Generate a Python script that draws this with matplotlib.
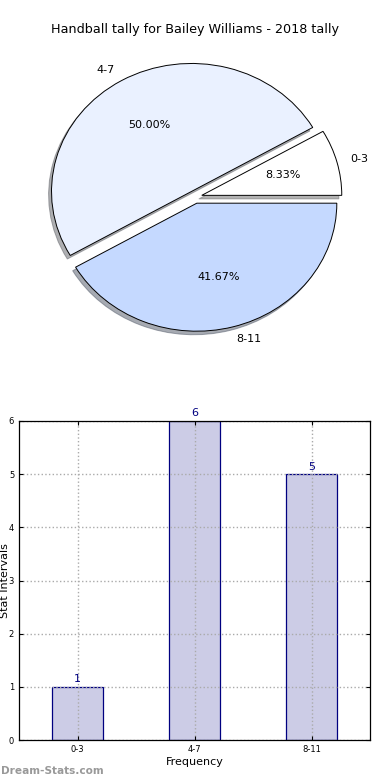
import matplotlib
matplotlib.use("Agg")
import matplotlib.pyplot as plt

categories = ["0-3", "4-7", "8-11"]
counts = [1, 6, 5]
pie_colors = ["#FFFFFF", "#EAF1FF", "#C5D9FF"]
explode = [0.05, 0.05, 0.05]
yticks = [0, 1, 2, 3, 4, 5, 6]

W, H = 390, 780
fig = plt.figure(figsize=(W / 100, H / 100), dpi=100)

def frac(l, t, w, h):
    return [l / W, 1 - (t + h) / H, w / W, h / H]

fig.text(195 / W, 1 - 30 / H, "Handball tally for Bailey Williams - 2018 tally",
         ha="center", va="center", fontsize=9.2)

ax1 = fig.add_axes(frac(20, 37, 350, 320))
wedges, texts, autotexts = ax1.pie(counts, labels=categories, colors=pie_colors,
                                   explode=explode, autopct="%1.2f%%",
                                   shadow={"ox": -0.015, "oy": -0.02, "shade": 0.6},
                                   startangle=0,
                                   wedgeprops=dict(edgecolor="black", linewidth=0.7),
                                   textprops=dict(fontsize=8))
ax1.set_aspect("auto")
ax1.set_xlim(-1.25, 1.25)
ax1.set_ylim(-1.25, 1.25)
ax1.axis("off")

ax2 = fig.add_axes(frac(19, 421, 351, 319))
x = list(range(len(categories)))
bars = ax2.bar(x, counts, width=0.44, color="#CCCCE6", edgecolor="navy", linewidth=0.9, zorder=1)
for xi, c in zip(x, counts):
    ax2.text(xi, c + 0.05, str(c), ha="center", va="bottom", color="navy", fontsize=8)
ax2.set_xlim(-0.5, 2.5)
ax2.set_ylim(0, 6)
ax2.set_xticks(x)
ax2.set_xticklabels(categories)
ax2.set_yticks(yticks)
ax2.tick_params(labelsize=6, direction="in", top=True, right=True, length=3)
ax2.set_axisbelow("line")
ax2.grid(True, linestyle=":", color="#AAAAAA", linewidth=1.0)
ax2.set_xlabel("Frequency", fontsize=8, labelpad=2)
ax2.set_ylabel("Stat Intervals", fontsize=8)
ax2.yaxis.set_label_coords(-0.027, 0.5)
for s in ax2.spines.values():
    s.set_linewidth(0.9)

fig.text(1 / W, 1 - 771 / H, "Dream-Stats.com", ha="left", va="center",
         fontsize=7.6, color="#999999", fontweight="bold")

fig.savefig("out.png", dpi=100)
